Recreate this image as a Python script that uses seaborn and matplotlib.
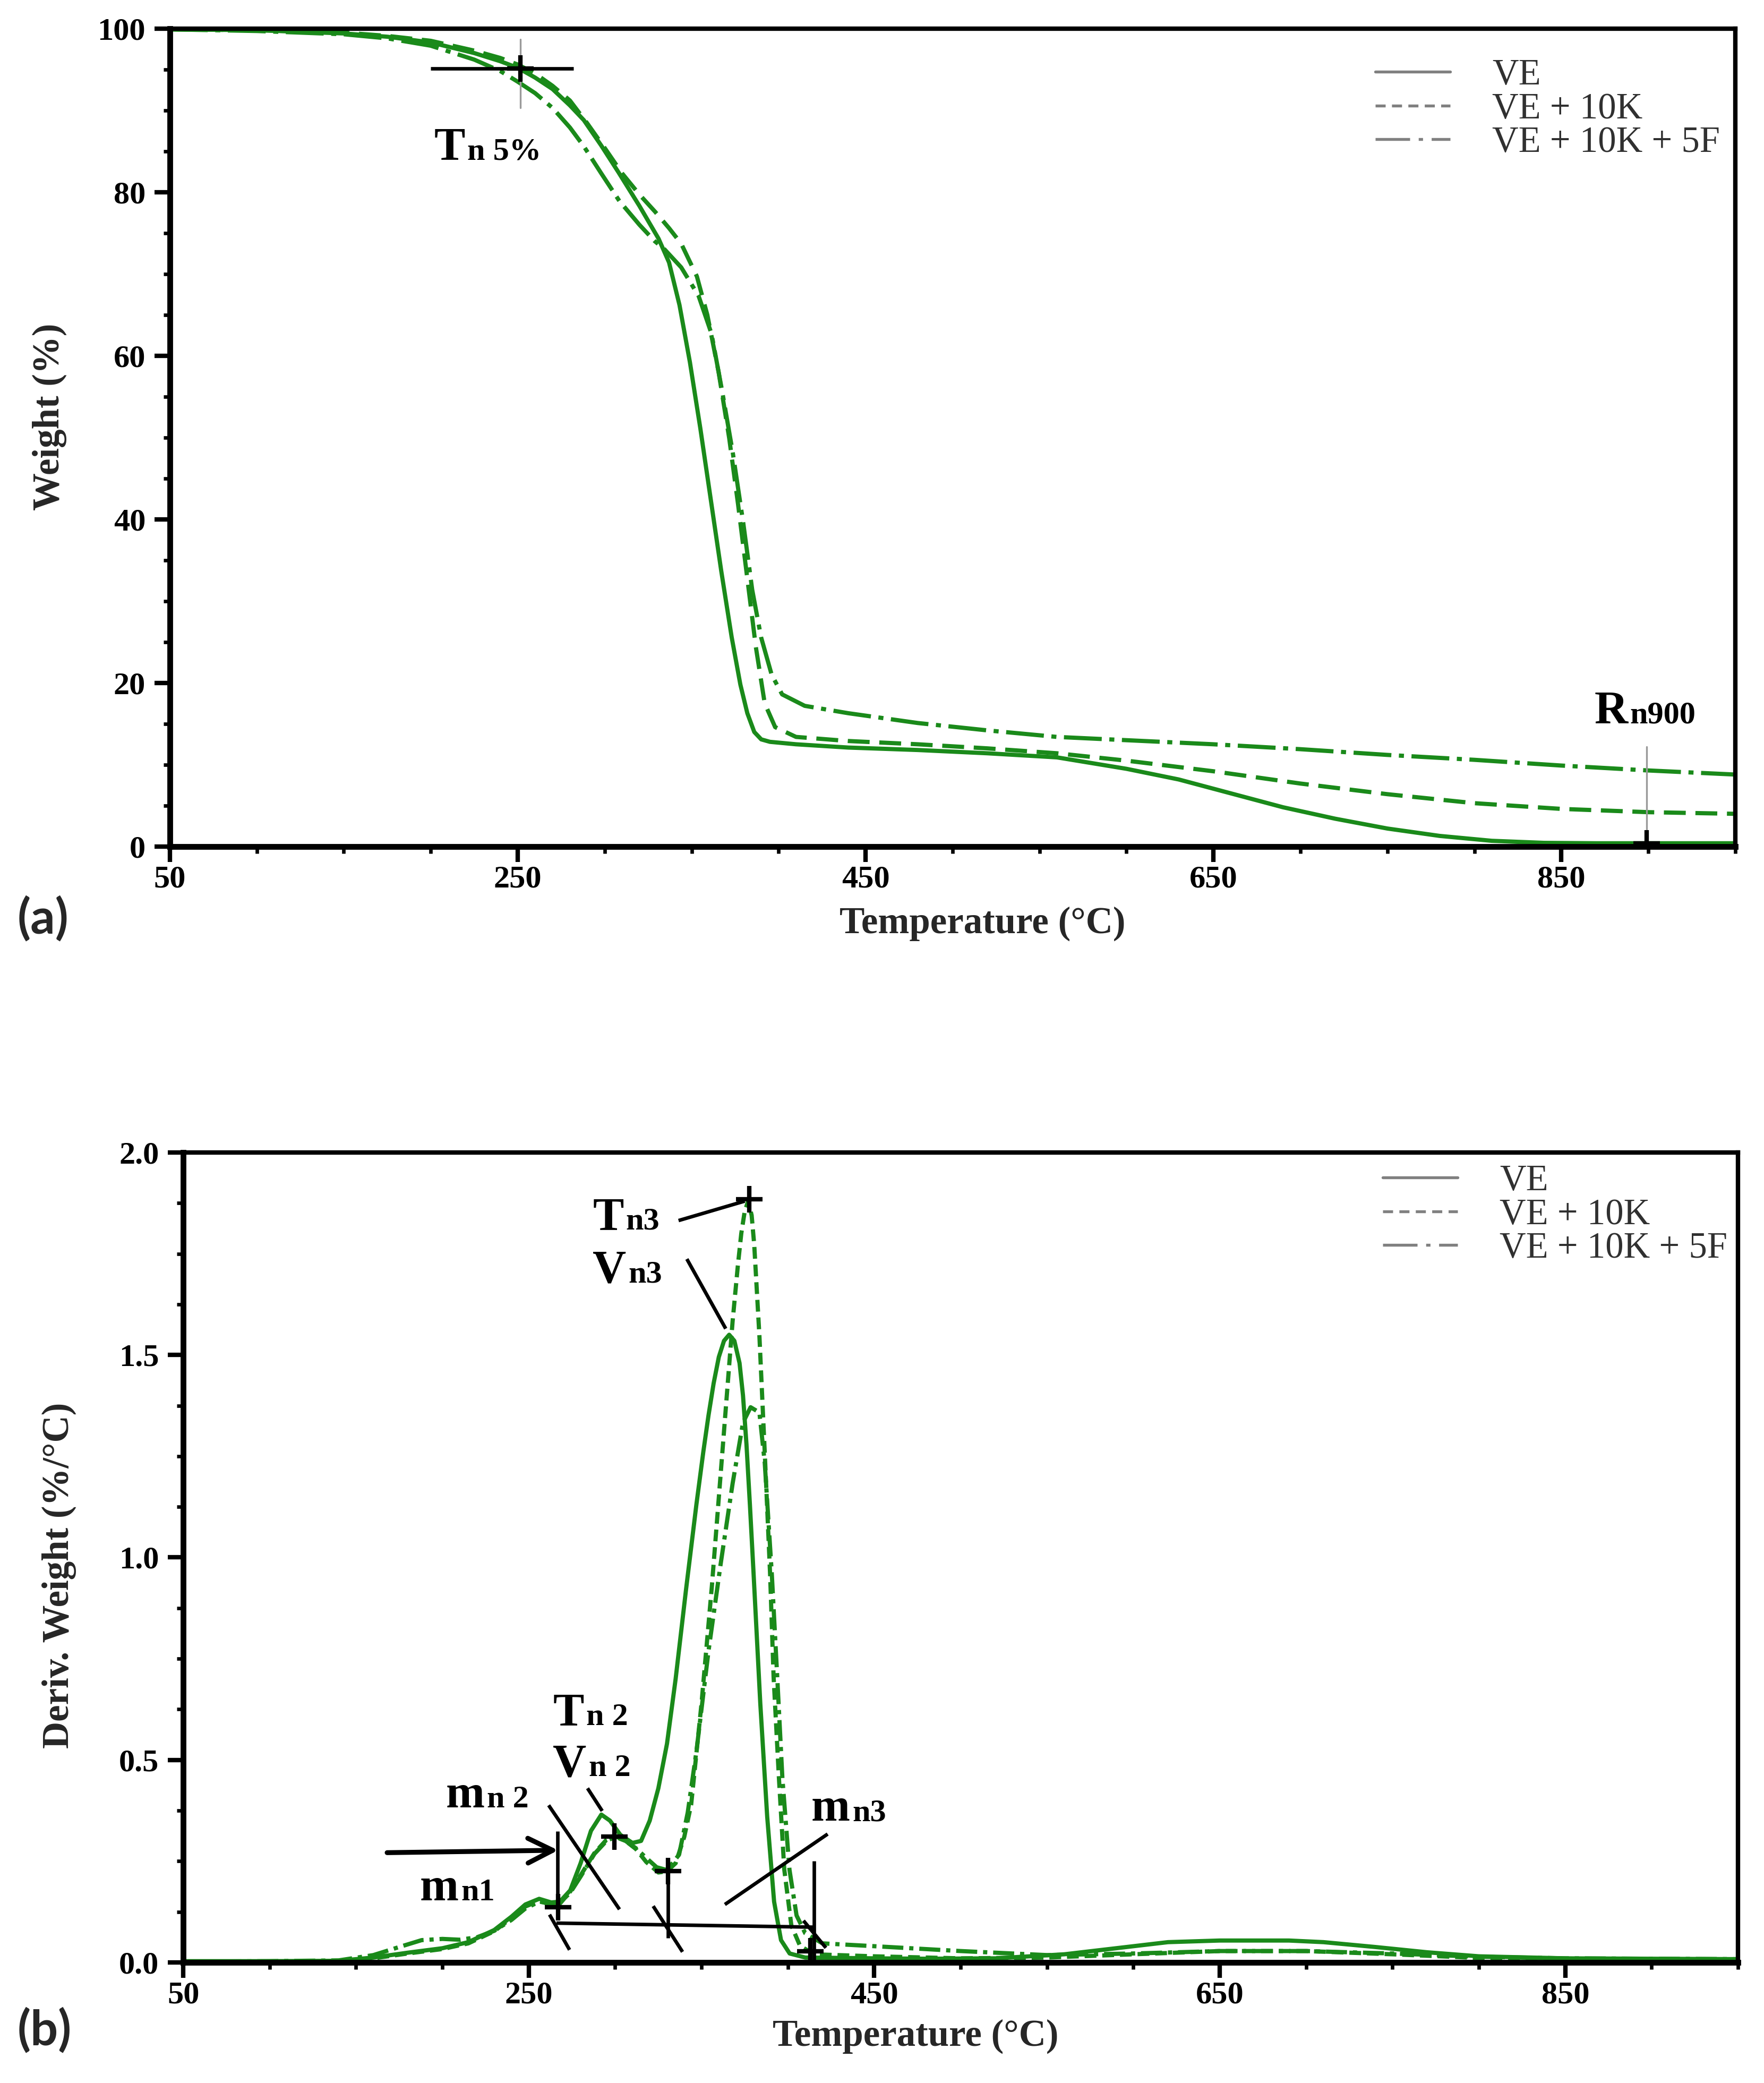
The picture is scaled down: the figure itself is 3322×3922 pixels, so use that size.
"""
TGA (a) and DTG (b) curves of VE, VE + 10K and VE + 10K + 5F
"""

import pandas as pd
import seaborn as sns
import matplotlib.pyplot as plt
import matplotlib.transforms as mtransforms
from matplotlib.lines import Line2D
from matplotlib.ticker import FixedLocator

# ---- data ---------------------------------------------------------------
SAMPLES = ["VE", "VE + 10K", "VE + 10K + 5F"]

# (a) weight (%) vs temperature
tga_T_ve = [50, 100, 150, 175, 200, 225, 240, 250, 260, 270, 280, 288, 298, 308, 320,
            331, 337, 343, 349, 355, 361, 367, 373, 378, 382, 386, 390, 395, 410, 440,
            480, 520, 560, 600, 630, 660, 690, 720, 750, 780, 810, 840, 870, 900, 950]
tga_W_ve = [99.9, 99.8, 99.4, 99.0, 98.3, 97.0, 96.0, 95.2, 94.0, 92.6, 90.6, 88.8, 85.7, 82.4, 78.3,
            74.3, 71.4, 66.2, 59.2, 51.1, 42.4, 33.7, 25.6, 19.8, 16.3, 14.0, 13.1, 12.8, 12.5, 12.1,
            11.8, 11.4, 10.9, 9.5, 8.2, 6.5, 4.8, 3.4, 2.2, 1.3, 0.7, 0.45, 0.4, 0.4, 0.4]

tga_T_k = [50, 100, 150, 175, 200, 225, 240, 250, 260, 270, 280, 290, 300, 310, 320,
           329, 337, 344, 353, 359, 365.5, 371.6, 376.7, 381.8, 386.9, 392, 398, 410, 440, 480,
           520, 560, 600, 650, 700, 750, 800, 850, 900, 950]
tga_W_k = [99.9, 99.8, 99.5, 99.1, 98.5, 97.3, 96.4, 95.6, 94.5, 93.0, 91.2, 88.4, 85.4, 82.3, 79.7,
           77.6, 75.6, 73.7, 69.7, 65.0, 58.0, 49.9, 41.8, 33.1, 24.4, 17.5, 14.6, 13.4, 12.9, 12.5,
           12.0, 11.4, 10.5, 9.2, 7.7, 6.4, 5.3, 4.6, 4.2, 4.0]

tga_T_kf = [50, 100, 150, 175, 200, 225, 240, 250, 260, 270, 280, 288, 298, 308.5, 320,
            328.8, 334, 344, 354, 361.4, 367.5, 373.6, 379.7, 384.8, 389.9, 396, 402, 415, 440, 480,
            520, 560, 600, 650, 700, 750, 800, 850, 900, 950]
tga_W_kf = [99.9, 99.7, 99.3, 98.8, 97.9, 96.2, 94.8, 93.5, 92.1, 90.3, 87.9, 85.6, 82.3, 78.9, 76.0,
            74.0, 73.1, 70.8, 67.3, 62.7, 55.7, 48.2, 39.5, 31.4, 25.6, 21.0, 18.6, 17.2, 16.3, 15.1,
            14.2, 13.4, 13.0, 12.5, 11.9, 11.2, 10.6, 9.9, 9.3, 8.8]

# (b) derivative weight (%/degC) vs temperature
dtg_T_ve = [50, 100, 140, 160, 180, 200, 215, 230, 240, 248, 256, 263, 268, 274, 280, 286, 292,
            297, 303, 310, 315, 320, 325, 330, 335, 341, 347, 351, 354, 357, 360, 363, 366, 369,
            372, 374, 376, 378, 380, 384, 388, 392, 396, 401, 410, 450, 480, 520, 560, 600, 620,
            650, 690, 710, 740, 770, 800, 850, 950]
dtg_V_ve = [0.003, 0.003, 0.004, 0.012, 0.024, 0.035, 0.05, 0.08, 0.113, 0.143, 0.157, 0.148, 0.15,
            0.178, 0.245, 0.325, 0.365, 0.35, 0.315, 0.295, 0.30, 0.35, 0.43, 0.54, 0.70, 0.92,
            1.13, 1.26, 1.35, 1.43, 1.495, 1.535, 1.55, 1.535, 1.48, 1.40, 1.28, 1.13, 0.97, 0.64,
            0.36, 0.15, 0.055, 0.022, 0.012, 0.01, 0.009, 0.01, 0.02, 0.04, 0.05, 0.054, 0.054,
            0.05, 0.038, 0.025, 0.015, 0.01, 0.008]

dtg_T_k = [50, 100, 140, 160, 180, 200, 215, 230, 240, 248, 256, 263, 268, 274, 280, 288, 295,
           300, 306, 312, 318, 325, 330, 335, 340, 344, 350, 356, 362, 368, 371, 373, 375, 377,
           379, 380.5, 383.5, 386.6, 389.7, 391.7, 394.8, 397.9, 402, 407, 415, 450, 500, 550,
           600, 650, 700, 750, 800, 850, 950]
dtg_V_k = [0.002, 0.002, 0.003, 0.01, 0.022, 0.033, 0.047, 0.077, 0.11, 0.138, 0.152, 0.142, 0.145,
           0.175, 0.215, 0.27, 0.303, 0.312, 0.30, 0.28, 0.248, 0.222, 0.225, 0.245, 0.31, 0.39,
           0.64, 0.93, 1.257, 1.584, 1.72, 1.80, 1.855, 1.88, 1.845, 1.772, 1.547, 1.258, 0.957,
           0.706, 0.455, 0.229, 0.091, 0.041, 0.02, 0.015, 0.01, 0.012, 0.02, 0.028, 0.028, 0.02,
           0.011, 0.008, 0.007]

dtg_T_kf = [50, 100, 140, 160, 175, 188, 200, 210, 220, 230, 240, 248, 256, 263, 268, 274, 280,
            288, 295, 300, 306, 312, 318, 324, 330, 337, 342, 347, 354, 361, 368, 374, 378.4,
            383.5, 386.6, 390.7, 393.8, 396.8, 400.9, 405, 410, 420, 450, 500, 550, 600, 650,
            700, 750, 800, 850, 950]
dtg_V_kf = [0.002, 0.003, 0.005, 0.018, 0.038, 0.055, 0.058, 0.056, 0.062, 0.078, 0.105, 0.133,
            0.15, 0.145, 0.148, 0.172, 0.212, 0.268, 0.30, 0.31, 0.30, 0.282, 0.258, 0.235, 0.228,
            0.266, 0.37, 0.52, 0.768, 0.982, 1.183, 1.333, 1.371, 1.358, 1.233, 0.957, 0.706,
            0.455, 0.229, 0.116, 0.072, 0.047, 0.04, 0.028, 0.018, 0.022, 0.028, 0.028, 0.022,
            0.014, 0.01, 0.008]

x_major = [50, 250, 450, 650, 850]
x_minor = list(range(50, 951, 50))

# ---- annotation marks ----------------------------------------------------
a_cross_T = [251.5, 899]
a_cross_W = [95.1, 0.4]
a_black_segs = [([200, 282], [95.1, 95.1])]
a_grey_segs = [([251.5, 251.5], [98.7, 90.3]), ([899, 899], [12.2, 0.0])]
a_labels = [("T", "n 5%", 202, 84.0), ("R", "n900", 869, 15.1)]

b_cross_T = [267, 299.5, 330.5, 413, 377.5]
b_cross_V = [0.136, 0.311, 0.226, 0.028, 1.885]
b_black_segs = [([266.5, 266.5], [0.324, 0.128]),
                ([330.5, 330.5], [0.25, 0.06]),
                ([415, 415], [0.25, 0.0]),
                ([266, 415.5], [0.097, 0.087]),
                ([262, 273.6], [0.118, 0.031]),
                ([322, 339], [0.139, 0.026]),
                ([409, 422], [0.103, 0.036]),
                ([261.5, 302.5], [0.388, 0.131]),
                ([284, 292.5], [0.43, 0.374]),
                ([363.5, 423], [0.143, 0.317]),
                ([336.7, 375], [1.832, 1.88]),
                ([341.5, 364], [1.737, 1.565])]
b_arrow = ((168, 0.271), (267, 0.277))
b_labels = [("T", "n3", 287, 1.81), ("V", "n3", 287, 1.68), ("T", "n 2", 264, 0.586),
            ("V", "n 2", 264, 0.46), ("m", "n 2", 202, 0.383), ("m", "n1", 187, 0.154),
            ("m", "n3", 413.5, 0.35)]

GREEN = "#1a8a1a"
SERIF = ["Liberation Serif", "DejaVu Serif"]


def long_frame(pairs):
    parts = [pd.DataFrame({"T": t, "val": v, "sample": name}) for name, (t, v) in zip(SAMPLES, pairs)]
    return pd.concat(parts, ignore_index=True)


tga = long_frame([(tga_T_ve, tga_W_ve), (tga_T_k, tga_W_k), (tga_T_kf, tga_W_kf)])
dtg = long_frame([(dtg_T_ve, dtg_V_ve), (dtg_T_k, dtg_V_k), (dtg_T_kf, dtg_V_kf)])

sns.set_theme(style="ticks")
plt.rcParams["font.family"] = SERIF

DPI = 300
fig = plt.figure(figsize=(3322 / DPI, 3922 / DPI), dpi=DPI)
ax_a = fig.add_axes([0.0963, 0.5936, 0.8874, 0.3927])
ax_b = fig.add_axes([0.1039, 0.0579, 0.8814, 0.3888])
renderer = fig.canvas.get_renderer()


def style_axes(ax, ymax, ymajor, yminor):
    ax.set_xlim(50, 950)
    ax.set_ylim(0, ymax)
    ax.xaxis.set_major_locator(FixedLocator(x_major))
    ax.xaxis.set_minor_locator(FixedLocator(x_minor))
    ax.yaxis.set_major_locator(FixedLocator(ymajor))
    ax.yaxis.set_minor_locator(FixedLocator(yminor))
    for side in ["left", "bottom"]:
        ax.spines[side].set_linewidth(2.6)
        ax.spines[side].set_color("black")
    for side in ["top", "right"]:
        ax.spines[side].set_linewidth(2.0)
        ax.spines[side].set_color("black")
        ax.spines[side].set_visible(True)
    ax.tick_params(which="major", direction="out", length=7, width=2.0, color="black",
                   labelsize=14.5, labelcolor="black", left=True, bottom=True)
    ax.tick_params(which="minor", direction="out", length=3, width=1.6, color="black",
                   left=True, bottom=True)
    ax.tick_params(axis="x", which="major", pad=1.5)
    ax.tick_params(axis="y", which="major", pad=4)
    for lab in ax.get_xticklabels() + ax.get_yticklabels():
        lab.set_fontweight("bold")
        lab.set_family(SERIF)


def big_small(ax, x, y, big, small, big_size=21, small_size=14.5):
    t = ax.text(x, y, big, fontsize=big_size, fontweight="bold", ha="left", va="baseline",
                color="black", family=SERIF)
    w = t.get_window_extent(renderer).width * 72 / fig.dpi
    tr = mtransforms.offset_copy(ax.transData, fig=fig, x=w + 1, y=0, units="points")
    ax.text(x, y, small, transform=tr, fontsize=small_size, fontweight="bold", ha="left",
            va="baseline", color="black", family=SERIF)


def add_legend(ax, dash_k, dash_kf, anchor):
    handles = [Line2D([], [], color="#808080", lw=1.3),
               Line2D([], [], color="#808080", lw=1.3, dashes=dash_k),
               Line2D([], [], color="#808080", lw=1.3, dashes=dash_kf)]
    leg = ax.legend(handles, SAMPLES, loc="upper left", bbox_to_anchor=anchor, frameon=False,
                    prop={"family": SERIF, "size": 16.5}, handlelength=2.05, handletextpad=1.15,
                    labelspacing=0.0, borderpad=0, borderaxespad=0)
    for txt in leg.get_texts():
        txt.set_color("#303030")


# ---- (a) TGA -------------------------------------------------------------
sns.lineplot(data=tga, x="T", y="val", style="sample", style_order=SAMPLES,
             dashes={SAMPLES[0]: "", SAMPLES[1]: (5.2, 2.3), SAMPLES[2]: (9, 1.8, 1.2, 1.8)},
             color=GREEN, lw=1.9, estimator=None, sort=False, legend=False, ax=ax_a)
style_axes(ax_a, 100, list(range(0, 101, 20)), list(range(0, 101, 5)))
ax_a.set_xlabel("Temperature (°C)", fontsize=17, fontweight="bold", family=SERIF)
ax_a.set_ylabel("Weight (%)", fontsize=17, fontweight="bold", family=SERIF, va="center")
ax_a.xaxis.set_label_coords(0.519, -0.073)
ax_a.yaxis.set_label_coords(-0.077, 0.525)

for xs, ys in a_grey_segs:
    ax_a.plot(xs, ys, color="#9a9a9a", lw=0.8)
for xs, ys in a_black_segs:
    ax_a.plot(xs, ys, color="black", lw=1.6, solid_capstyle="butt")
ax_a.plot(a_cross_T, a_cross_W, ls="none", marker="+", ms=12, mew=2.0, color="black")
for big, small, x, y in a_labels:
    big_small(ax_a, x, y, big, small)
add_legend(ax_a, (3.5, 2.2), (12, 3, 1.5, 3), (0.770, 0.963))

# ---- (b) DTG -------------------------------------------------------------
sns.lineplot(data=dtg, x="T", y="val", style="sample", style_order=SAMPLES,
             dashes={SAMPLES[0]: "", SAMPLES[1]: (2.8, 1.4), SAMPLES[2]: (5, 1.4, 1.0, 1.4)},
             color=GREEN, lw=1.9, estimator=None, sort=False, legend=False, ax=ax_b)
style_axes(ax_b, 2.0, [0.0, 0.5, 1.0, 1.5, 2.0], [i * 0.125 for i in range(17)])
ax_b.set_xlabel("Temperature (°C)", fontsize=17, fontweight="bold", family=SERIF)
ax_b.set_ylabel("Deriv. Weight (%/°C)", fontsize=17, fontweight="bold", family=SERIF, va="center")
ax_b.xaxis.set_label_coords(0.471, -0.070)
ax_b.yaxis.set_label_coords(-0.080, 0.478)

for xs, ys in b_black_segs:
    ax_b.plot(xs, ys, color="black", lw=1.6, solid_capstyle="butt")
ax_b.annotate("", xy=b_arrow[1], xytext=b_arrow[0],
              arrowprops=dict(arrowstyle="->", lw=2.2, color="black", mutation_scale=28,
                              shrinkA=0, shrinkB=0))
ax_b.plot(b_cross_T, b_cross_V, ls="none", marker="+", ms=12, mew=2.0, color="black")
for big, small, x, y in b_labels:
    big_small(ax_b, x, y, big, small)
add_legend(ax_b, (3.5, 2.2), (12, 3, 1.5, 3), (0.7715, 0.985))

# panel tags
fig.text(0.0099, 0.559, "(a)", fontsize=22, fontweight="bold", family=["Lato", "DejaVu Sans"],
         ha="left", va="center")
fig.text(0.0099, 0.0252, "(b)", fontsize=22, fontweight="bold", family=["Lato", "DejaVu Sans"],
         ha="left", va="center")

fig.savefig("out.png", dpi=DPI)
